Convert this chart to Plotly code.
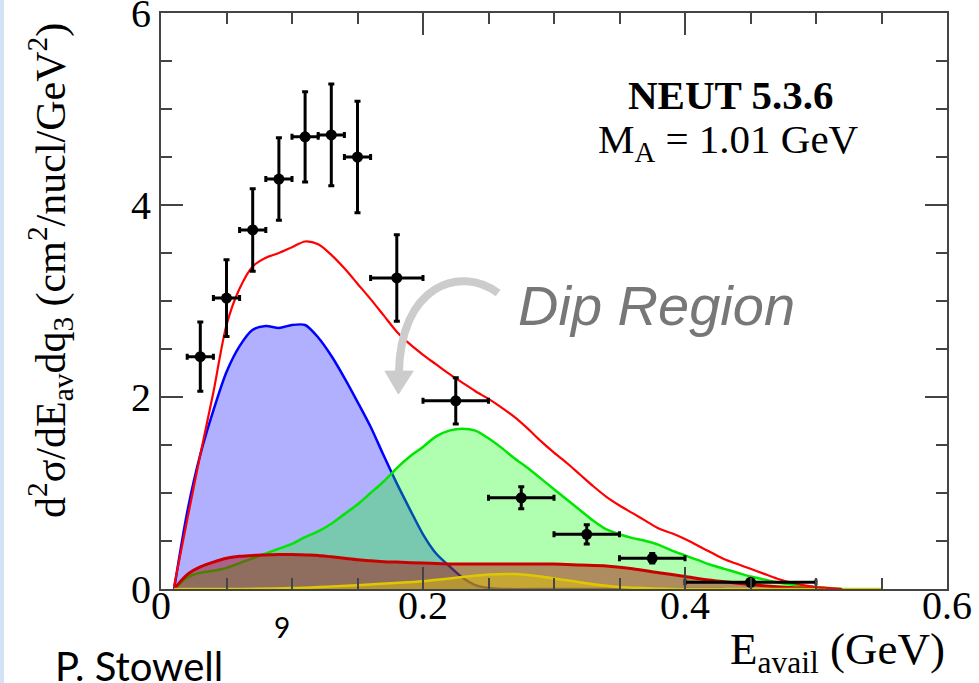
import plotly.graph_objects as go

# ---- measured cross-section (data points) ----
data_x = [0.03, 0.05, 0.07, 0.09, 0.11, 0.13, 0.15, 0.18, 0.225, 0.275, 0.325, 0.375, 0.45]
data_xerr = [0.01, 0.01, 0.01, 0.01, 0.01, 0.01, 0.01, 0.02, 0.025, 0.025, 0.025, 0.025, 0.05]
data_y = [2.42, 3.03, 3.74, 4.27, 4.71, 4.73, 4.50, 3.24, 1.96, 0.95, 0.57, 0.32, 0.07]
data_yerr = [0.36, 0.40, 0.43, 0.43, 0.47, 0.53, 0.58, 0.45, 0.24, 0.115, 0.10, 0.05, 0.03]

# ---- NEUT prediction: total ----
tot_x = [0.01, 0.02, 0.03, 0.04, 0.05, 0.06, 0.07, 0.08, 0.09, 0.10, 0.11, 0.12, 0.13, 0.14,
         0.15, 0.16, 0.17, 0.18, 0.19, 0.20, 0.21, 0.22, 0.23, 0.24, 0.25, 0.26, 0.27, 0.28,
         0.29, 0.30, 0.31, 0.32, 0.33, 0.34, 0.35, 0.36, 0.37, 0.38, 0.39, 0.40, 0.41, 0.42,
         0.43, 0.44, 0.45, 0.46, 0.47, 0.48, 0.49, 0.50, 0.51, 0.52]
tot_y = [0.03, 0.72, 1.40, 2.05, 2.75, 3.13, 3.36, 3.45, 3.50, 3.56, 3.62, 3.59, 3.48, 3.34,
         3.18, 3.02, 2.85, 2.68, 2.55, 2.44, 2.34, 2.24, 2.15, 2.06, 1.98, 1.89, 1.79, 1.67,
         1.54, 1.42, 1.31, 1.19, 1.07, 0.96, 0.87, 0.79, 0.71, 0.63, 0.58, 0.52, 0.45, 0.38,
         0.31, 0.26, 0.21, 0.16, 0.11, 0.07, 0.04, 0.02, 0.01, 0.0]

# ---- quasi-elastic component ----
qe_x = [0.01, 0.02, 0.03, 0.04, 0.05, 0.06, 0.07, 0.08, 0.09, 0.10, 0.11, 0.12, 0.13, 0.14,
        0.15, 0.16, 0.17, 0.18, 0.19, 0.20, 0.21, 0.22, 0.23, 0.24, 0.25, 0.26, 0.30, 0.35,
        0.40, 0.43]
qe_y = [0.0, 0.80, 1.40, 1.86, 2.26, 2.53, 2.70, 2.74, 2.72, 2.75, 2.75, 2.62, 2.43, 2.20,
        1.95, 1.69, 1.39, 1.10, 0.83, 0.57, 0.37, 0.24, 0.12, 0.04, 0.01, 0.0, 0.0, 0.0,
        0.0, 0.0]

# ---- 2p2h component ----
mec_x = [0.01, 0.02, 0.03, 0.04, 0.05, 0.06, 0.07, 0.08, 0.09, 0.10, 0.11, 0.12, 0.13, 0.14,
         0.15, 0.16, 0.17, 0.18, 0.19, 0.20, 0.21, 0.22, 0.23, 0.24, 0.25, 0.26, 0.27, 0.28,
         0.29, 0.30, 0.31, 0.32, 0.33, 0.34, 0.35, 0.36, 0.37, 0.38, 0.39, 0.40, 0.41, 0.42,
         0.43, 0.44, 0.45, 0.46, 0.47, 0.48, 0.49, 0.50, 0.51, 0.52]
mec_y = [0.0, 0.12, 0.17, 0.19, 0.22, 0.27, 0.32, 0.37, 0.42, 0.47, 0.54, 0.60, 0.68, 0.78,
         0.88, 1.00, 1.12, 1.26, 1.38, 1.48, 1.59, 1.65, 1.67, 1.65, 1.57, 1.47, 1.36, 1.26,
         1.15, 1.04, 0.93, 0.82, 0.71, 0.62, 0.57, 0.53, 0.50, 0.46, 0.40, 0.35, 0.30, 0.25,
         0.21, 0.17, 0.13, 0.10, 0.07, 0.05, 0.03, 0.02, 0.01, 0.0]

# ---- single pion component ----
pi_x = [0.01, 0.02, 0.03, 0.04, 0.05, 0.06, 0.07, 0.08, 0.09, 0.10, 0.11, 0.12, 0.13, 0.14,
        0.15, 0.16, 0.17, 0.18, 0.20, 0.22, 0.24, 0.26, 0.28, 0.30, 0.32, 0.34, 0.36, 0.38,
        0.40, 0.42, 0.44, 0.46, 0.48, 0.50]
pi_y = [0.0, 0.15, 0.23, 0.28, 0.32, 0.34, 0.35, 0.355, 0.36, 0.36, 0.355, 0.35, 0.335, 0.32,
        0.305, 0.295, 0.285, 0.28, 0.27, 0.26, 0.26, 0.26, 0.26, 0.26, 0.25, 0.24, 0.21, 0.17,
        0.13, 0.09, 0.06, 0.035, 0.015, 0.0]

# ---- other channels ----
oth_x = [0.01, 0.05, 0.10, 0.15, 0.20, 0.22, 0.25, 0.27, 0.29, 0.31, 0.33, 0.35, 0.38, 0.40, 0.55]
oth_y = [0.0, 0.0, 0.01, 0.04, 0.08, 0.11, 0.15, 0.155, 0.13, 0.09, 0.05, 0.02, 0.005, 0.0, 0.0]

W, H = 979, 683
L, R, T, B = 161, 32, 13, 94
PW, PH = W - L - R, H - T - B


def px(x):
    return (x - L) / PW


def py(y):
    return (H - B - y) / PH


SERIF = "Liberation Serif"
AXIS_GREY = "#444444"

fig = go.Figure()

# filled model components, drawn back to front
components = [
    (qe_x, qe_y, "#0000ff", "rgba(0,0,255,0.31)", 2.5),
    (mec_x, mec_y, "#00e600", "rgba(0,255,0,0.31)", 2.5),
    (pi_x, pi_y, "#c80000", "rgba(170,0,0,0.45)", 3),
    (oth_x, oth_y, "#e0c800", "rgba(230,200,0,0.45)", 2.5),
]
for xs, ys, lc, fc, lw in components:
    fig.add_trace(go.Scatter(
        x=xs, y=ys, mode="lines", fill="tozeroy", fillcolor=fc,
        line=dict(color=lc, width=lw, shape="spline", smoothing=0.8),
        showlegend=False, hoverinfo="skip"))

# total prediction
fig.add_trace(go.Scatter(
    x=tot_x, y=tot_y, mode="lines",
    line=dict(color="#ff0000", width=2.2, shape="spline", smoothing=0.8),
    showlegend=False, hoverinfo="skip"))

# data with error bars
fig.add_trace(go.Scatter(
    x=data_x, y=data_y, mode="markers",
    marker=dict(color="black", size=11),
    error_x=dict(type="data", array=data_xerr, color="black", thickness=3, width=3),
    error_y=dict(type="data", array=data_yerr, color="black", thickness=3, width=3),
    showlegend=False))

axis_common = dict(
    showline=True, linecolor=AXIS_GREY, linewidth=2, mirror="allticks",
    ticks="inside", ticklen=22, tickwidth=2, tickcolor=AXIS_GREY,
    showgrid=False, zeroline=False, ticklabeloverflow="allow", automargin=False,
    tickfont=dict(family=SERIF, size=40, color="black"),
)
fig.update_xaxes(range=[0, 0.6], dtick=0.2, tick0=0, ticklabelstandoff=-20,
                 minor=dict(dtick=0.05, ticks="inside", ticklen=11, tickwidth=2,
                            tickcolor=AXIS_GREY, showgrid=False),
                 **axis_common)
fig.update_yaxes(range=[0, 6], dtick=2, tick0=0,
                 minor=dict(dtick=0.5, ticks="inside", ticklen=11, tickwidth=2,
                            tickcolor=AXIS_GREY, showgrid=False),
                 **axis_common)

annotations = [
    dict(x=px(947), y=py(652), xanchor="right", yanchor="middle",
         text="E<sub>avail</sub> (GeV)", font=dict(family=SERIF, size=45, color="black")),
    dict(x=px(50), y=py(271), xanchor="center", yanchor="middle", textangle=-90,
         text="d<sup>2</sup>σ/dE<sub>av</sub>dq<sub>3</sub> (cm<sup>2</sup>/nucl/GeV<sup>2</sup>)",
         font=dict(family=SERIF, size=42, color="black")),
    dict(x=px(730), y=py(95), xanchor="center", yanchor="middle",
         text="<b>NEUT 5.3.6</b>", font=dict(family=SERIF, size=41, color="black")),
    dict(x=px(728), y=py(142), xanchor="center", yanchor="middle",
         text="M<sub>A</sub> = 1.01 GeV", font=dict(family=SERIF, size=41, color="black")),
    dict(x=px(656), y=py(305), xanchor="center", yanchor="middle",
         text="<i>Dip Region</i>", font=dict(family="Liberation Sans", size=56, color="#777777")),
    dict(x=px(282), y=py(627), xanchor="center", yanchor="middle",
         text="9", font=dict(family="Lato", size=28, color="black")),
    dict(x=px(53), y=py(666), xanchor="left", yanchor="middle",
         text="P. Stowell", font=dict(family="Lato", size=40, color="black")),
]
for a in annotations:
    a.update(xref="paper", yref="paper", showarrow=False)

# curved pointer towards the dip region (data coordinates)
shapes = [
    dict(type="path", xref="x", yref="y",
         path="M 0.2573,3.083 C 0.2283,3.375 0.1824,3.167 0.1816,2.24",
         line=dict(color="#cccccc", width=8)),
    dict(type="path", xref="x", yref="y",
         path="M 0.1710,2.27 L 0.1925,2.27 L 0.1812,2.03 Z",
         fillcolor="#cccccc", line=dict(color="#cccccc", width=1)),
    dict(type="rect", xref="paper", yref="paper", x0=px(0), x1=px(4), y0=py(H), y1=py(0),
         fillcolor="#d3e2f5", line=dict(width=0), layer="below"),
]

fig.update_layout(
    width=W, height=H, autosize=False,
    margin=dict(l=L, r=R, t=T, b=B),
    paper_bgcolor="white", plot_bgcolor="white",
    annotations=annotations, shapes=shapes,
    showlegend=False,
)

fig.write_html("out.html")
